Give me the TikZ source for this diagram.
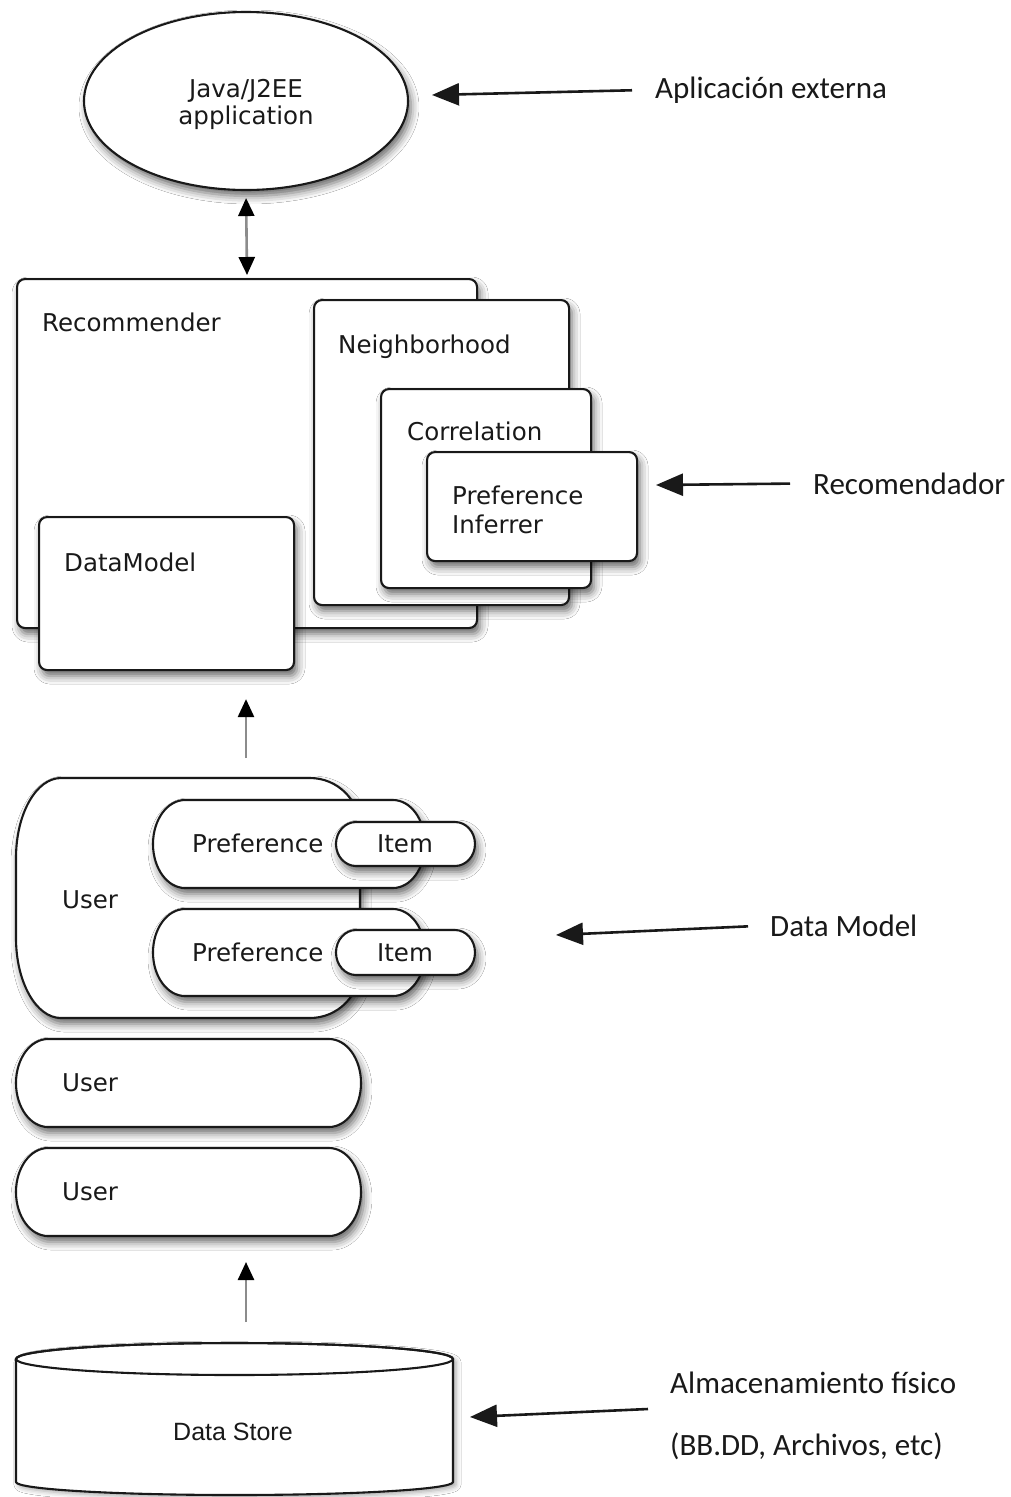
\documentclass[tikz,border=0pt]{standalone}
\usepackage{fontspec}
\usetikzlibrary{shapes.geometric,arrows.meta,shadows.blur}
\newfontfamily\diagfont{DejaVu Sans}
\newfontfamily\notefont{Carlito}
\newfontfamily\storefont{Liberation Sans}

\tikzset{
  softshadow/.style={blur shadow={shadow xshift=3pt,shadow yshift=-6pt,shadow blur radius=8pt,shadow opacity=60}},
  comp/.style={draw=black!90, line width=2.1pt, fill=white, softshadow},
  box/.style={comp, rectangle, rounded corners=8pt, anchor=north west, inner sep=0},
  lbl/.style={font=\diagfont\fontsize{24.5}{29}\selectfont, text=black!90, inner sep=0, anchor=base west},
  note/.style={font=\notefont\fontsize{31}{36}\selectfont, text=black!90, inner sep=0, anchor=base west},
  pointer/.style={line width=2.6pt, draw=black!90, -{Triangle[length=27pt,width=22pt]}},
  flow/.style={line width=2.6pt, draw=black!45, -{Triangle[length=18pt,width=16pt,color=black]}},
  flowboth/.style={line width=2.6pt, draw=black!45,
    {Triangle[length=18pt,width=16pt,color=black]}-{Triangle[length=18pt,width=16pt,color=black]}},
}

% capsule outline: options, left, top, right, bottom, x radius, y radius
\newcommand{\capsule}[7]{%
  \draw[#1] (#2+#6,#3) -- (#4-#6,#3)
    arc[start angle=90,end angle=-90,x radius=#6pt,y radius=#7pt]
    -- (#2+#6,#5)
    arc[start angle=270,end angle=90,x radius=#6pt,y radius=#7pt] -- cycle;}

\begin{document}
\begin{tikzpicture}[x=1pt,y=-1pt]
  \useasboundingbox (0,0) rectangle (1011,1497);
  \fill[white] (0,0) rectangle (1011,1497);

  % external application
  \node[comp, ellipse, minimum width=324pt, minimum height=178pt, inner sep=0] (app) at (246,101) {};
  \node[font=\diagfont\fontsize{24.5}{27}\selectfont, text=black!90, align=center, inner sep=0] (appT) at (246,104) {Java/J2EE\\application};

  % recommender and its parts
  \node[box, minimum width=460pt, minimum height=349pt] (rec) at (16,278) {};
  \node[lbl] (recT) at (42,331) {Recommender};
  \node[box, minimum width=255pt, minimum height=305pt] (nbh) at (313,299) {};
  \node[lbl] (nbhT) at (338,353) {Neighborhood};
  \node[box, minimum width=210pt, minimum height=199pt] (cor) at (380,388) {};
  \node[lbl] (corT) at (407,440) {Correlation};
  \node[box, minimum width=210pt, minimum height=109pt] (inf) at (426,451) {};
  \node[lbl, align=left, anchor=north west] (infT) at (452,486) {Preference\\Inferrer};
  \node[box, minimum width=255pt, minimum height=153pt] (dm) at (38,516) {};
  \node[lbl] (dmT) at (64,571) {DataModel};

  \draw[flowboth, shorten <=7pt, shorten >=3pt] (app.south) -- (rec.north);

  % data model: user with preferences and items
  \draw[comp] (61,778) -- (310,778) arc[start angle=90,end angle=0,radius=50pt]
    -- (360,968) arc[start angle=0,end angle=-90,radius=50pt]
    -- (61,1018) arc[start angle=270,end angle=180,x radius=45pt,y radius=80pt]
    -- (16,858) arc[start angle=180,end angle=90,x radius=45pt,y radius=80pt] -- cycle;
  \node[lbl] (userT) at (62,908) {User};

  \capsule{comp}{153}{800}{425}{888}{32}{44}
  \node[lbl] (pref1T) at (192,852) {Preference};
  \capsule{comp}{336}{822}{475}{866}{20}{22}
  \node[lbl, anchor=base] (item1T) at (405,852) {Item};

  \capsule{comp}{153}{909}{425}{996}{32}{43.5}
  \node[lbl] (pref2T) at (192,961) {Preference};
  \capsule{comp}{336}{930}{475}{975}{20}{22.5}
  \node[lbl, anchor=base] (item2T) at (405,961) {Item};

  \capsule{comp}{16}{1039}{361}{1127}{32}{44}
  \node[lbl] (user2T) at (62,1091) {User};
  \capsule{comp}{16}{1148}{361}{1236}{32}{44}
  \node[lbl] (user3T) at (62,1200) {User};

  \coordinate (userTop) at (246,778);
  \draw[flow, shorten <=20pt, shorten >=28pt] (userTop) -- (dm.south -| userTop);

  % data store cylinder
  \draw[draw=black!90, line width=2.1pt, fill=white,
        blur shadow={shadow xshift=3pt,shadow yshift=-3pt,shadow blur radius=5pt,shadow opacity=35}]
    (16,1359) -- (16,1482) arc[start angle=180,end angle=360,x radius=218.5pt,y radius=13pt]
    -- (453,1359) arc[start angle=0,end angle=180,x radius=218.5pt,y radius=16pt] -- cycle;
  \draw[draw=black!90, line width=2.1pt] (234.5,1359) ellipse[x radius=218.5pt,y radius=16pt];
  \node[font=\storefont\fontsize{25}{30}\selectfont, text=black!90, anchor=base, inner sep=0] (dsT) at (233,1440) {Data Store};

  \coordinate (dsTop) at (246,1343);
  \coordinate (u3Bot) at (246,1236);
  \draw[flow, shorten <=21pt, shorten >=26pt] (dsTop) -- (u3Bot);

  % annotations
  \node[note] (n1) at (655,98) {Aplicación externa};
  \coordinate (n1Tip) at (432,95);
  \draw[pointer, shorten <=23pt] (n1.west) -- (n1Tip);

  \node[note] (n2) at (813,494) {Recomendador};
  \coordinate (n2Tip) at (656,485);
  \draw[pointer, shorten <=23pt] (n2.west) -- (n2Tip);

  \node[note] (n3) at (770,936) {Data Model};
  \coordinate (n3Tip) at (556,935);
  \draw[pointer, shorten <=22pt] (n3.west) -- (n3Tip);

  \node[note] (n4a) at (670,1393) {Almacenamiento físico};
  \node[note] (n4b) at (670,1455) {(BB.DD, Archivos, etc)};
  \coordinate (n4Start) at (648,1409);
  \coordinate (n4Tip) at (470,1417);
  \draw[pointer] (n4Start) -- (n4Tip);
\end{tikzpicture}
\end{document}
